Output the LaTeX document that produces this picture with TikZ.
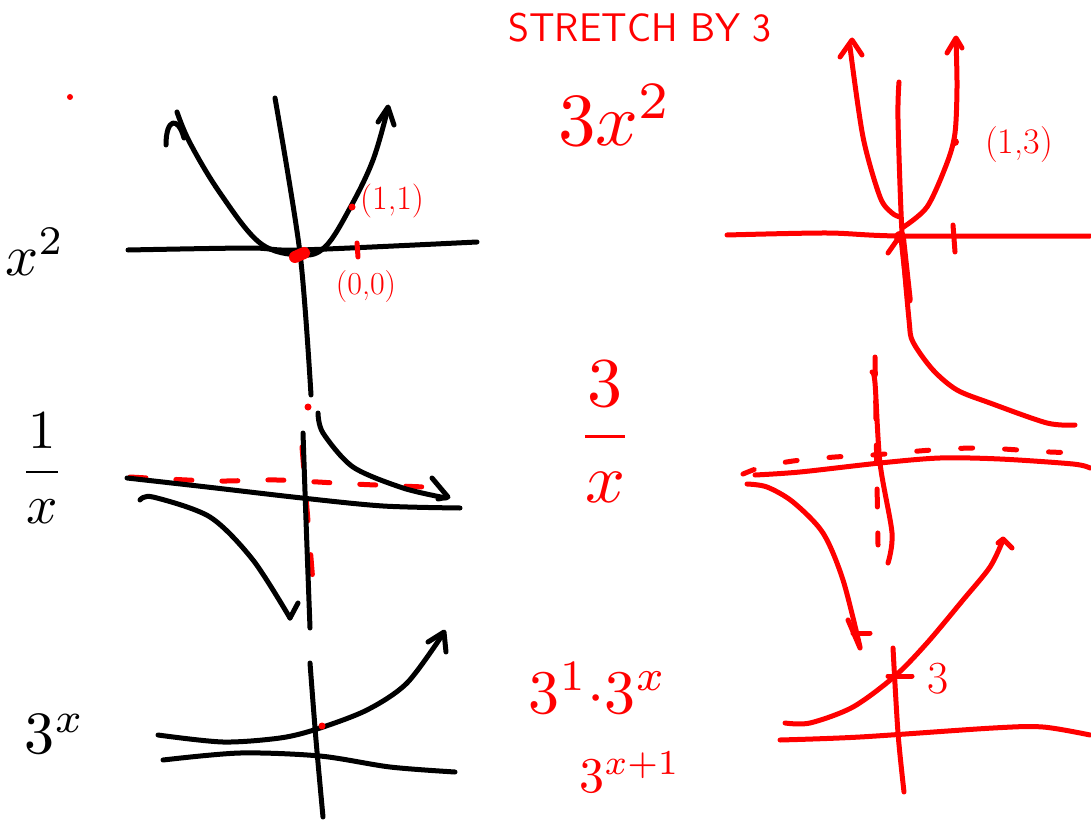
\documentclass[tikz,border=0pt]{standalone}
\usepackage{amsmath}
\usepackage{graphicx}
\begin{document}
\begin{tikzpicture}[x=1pt,y=-1pt,line cap=round,line join=round,
  ink/.style={line width=5pt,black},
  rink/.style={line width=5pt,red},
  rdash/.style={line width=5pt,red,dash pattern=on 16pt off 30pt},
  lbl/.style={inner sep=0pt,anchor=center},
  blk/.style={lbl,text=black},
  rd/.style={lbl,text=red}]
\useasboundingbox[fill=white] (0,0) rectangle (1091,821);

% ---------- titles and labels ----------
\node[rd,font=\fontsize{40}{44}\selectfont\sffamily] (title) at (640,28) {STRETCH BY 3};
\fill[red] (70,97) circle (3);
\node[blk] (lx2) at (35,252) {\scalebox{5.8}{$x^2$}};
\node[blk] (l1x) at (42,468) {\scalebox{5.5}{$\dfrac{1}{x}$}};
\node[blk] (l3x) at (55,734) {\scalebox{6}{$3^x$}};
\node[rd] (r3x2) at (615,115) {\scalebox{7.5}{$3x^2$}};
\node[rd] (r3ox) at (605,432) {\scalebox{7}{$\dfrac{3}{x}$}};
\node[rd] (r33) at (598,688) {\scalebox{6.2}{$3^{1}{\cdot}3^{x}$}};
\node[rd] (r3x1) at (630,772) {\scalebox{5}{$3^{x+1}$}};

% ---------- graph 1: x^2 (black) ----------
\draw[ink] plot[smooth] coordinates {(128,250) (250,248) (300,250) (477,242)};
\draw[ink] plot[smooth] coordinates {(275,98) (300,253) (311,395)};
\draw[ink] plot[smooth,tension=0.6] coordinates {(177,112) (190,143) (220,193) (260,243) (300,255) (325,247) (350,208) (373,160) (388,108)};
\draw[ink] (378,122) -- (388,107) -- (394,125);
\draw[ink] (166,145) .. controls (166,118) and (178,116) .. (184,138);
\draw[red,line width=12pt] (295,257) -- (304,253);
\fill[red] (352,207) circle (3.5);
\draw[rink] (357,243) -- (358,257);
\node[rd] (p11) at (392,201) {\fontsize{34}{36}\selectfont(1,1)};
\node[rd] (p00) at (366,287) {\fontsize{32}{34}\selectfont(0,0)};

% ---------- graph 2: 1/x (black) ----------
\draw[rdash] plot[smooth] coordinates {(130,477) (213,481) (277,480) (353,484) (425,487)};
\draw[rdash,dash pattern=on 20pt off 34pt] (302,447) -- (314,595);
\draw[ink] plot[smooth] coordinates {(127,478) (207,487) (302,498) (383,506) (460,508)};
\draw[ink] plot[smooth] coordinates {(303,433) (306,520) (310,628)};
\draw[ink] plot[smooth] coordinates {(318,413) (323,433) (353,467) (403,488) (446,498)};
\draw[ink] (432,478) -- (448,497) -- (438,499);
\draw[ink] plot[smooth] coordinates {(140,500) (153,497) (210,517) (253,560) (290,618)};
\draw[ink] (290,618) -- (298,603);
\fill[red] (308,407) circle (3.5);

% ---------- graph 3: 3^x (black) ----------
\draw[ink] plot[smooth] coordinates {(310,663) (316,740) (323,817)};
\draw[ink] plot[smooth] coordinates {(163,760) (240,753) (320,756) (390,767) (455,772)};
\draw[ink] plot[smooth] coordinates {(158,735) (223,742) (280,738) (317,729) (367,710) (407,683) (443,634)};
\draw[ink] (428,642) -- (444,632) -- (446,652);
\fill[red] (322,726) circle (3.5);

% ---------- right graph 1: 3x^2 (red) ----------
\draw[rink] plot[smooth] coordinates {(727,235) (827,233) (900,236) (1090,236)};
\draw[rink] (953,225) -- (955,252);
\draw[rink] plot[smooth] coordinates {(899,82) (898,120) (902,233) (909,320) (913,342) (933,370) (957,390) (990,403) (1047,423) (1075,425)};
\draw[red,line width=7.5pt] (902,236) -- (909,300);
\draw[rink] (888,253) -- (902,233);
\fill[red] (900,237) circle (6);
\draw[rink] plot[smooth] coordinates {(850,47) (863,137) (880,197) (892,213) (900,217)};
\draw[rink] (840,57) -- (852,40) -- (862,55);
\draw[rink] plot[smooth] coordinates {(902,228) (927,207) (947,163) (955,133) (957,87) (956,40)};
\draw[rink] (947,53) -- (956,38) -- (962,48);
\fill[red] (955,142) circle (4);
\node[rd] (p13) at (1019,145) {\fontsize{36}{38}\selectfont(1,3)};

% ---------- right graph 2: 3/x (red) ----------
\draw[rdash,dash pattern=on 12pt off 32pt] plot[smooth] coordinates {(743,474) (762,467) (793,461) (835,457) (873,455) (932,450) (982,448) (1050,452) (1090,453)};
\draw[rink] plot[smooth] coordinates {(755,475) (800,472) (880,463) (940,458) (1000,459) (1073,464) (1090,468)};
\draw[rdash,dash pattern=on 18pt off 26pt] (875,357) -- (878,545);
\draw[rink] plot[smooth] coordinates {(872,372) (875,383) (880,463) (892,533) (888,563)};
\draw[rink] plot[smooth] coordinates {(747,484) (767,487) (793,502) (823,533) (843,580) (860,647)};
\draw[rink] (848,620) -- (860,648);
\draw[rink] (853,633) -- (870,633);

% ---------- right graph 3: 3^(x+1) (red) ----------
\draw[rink] plot[smooth] coordinates {(785,723) (810,723) (853,707) (895,676) (927,643) (963,600) (990,567) (1003,540)};
\draw[rink] (998,543) -- (1003,539) -- (1012,548);
\draw[rink] plot[smooth] coordinates {(893,648) (898,733) (904,792)};
\draw[rink] plot[smooth] coordinates {(780,740) (860,737) (993,728) (1043,727) (1090,735)};
\draw[rink] (888,676) -- (912,676);
\node[rd] (l3) at (938,679) {\fontsize{46}{48}\selectfont 3};
\end{tikzpicture}
\end{document}
